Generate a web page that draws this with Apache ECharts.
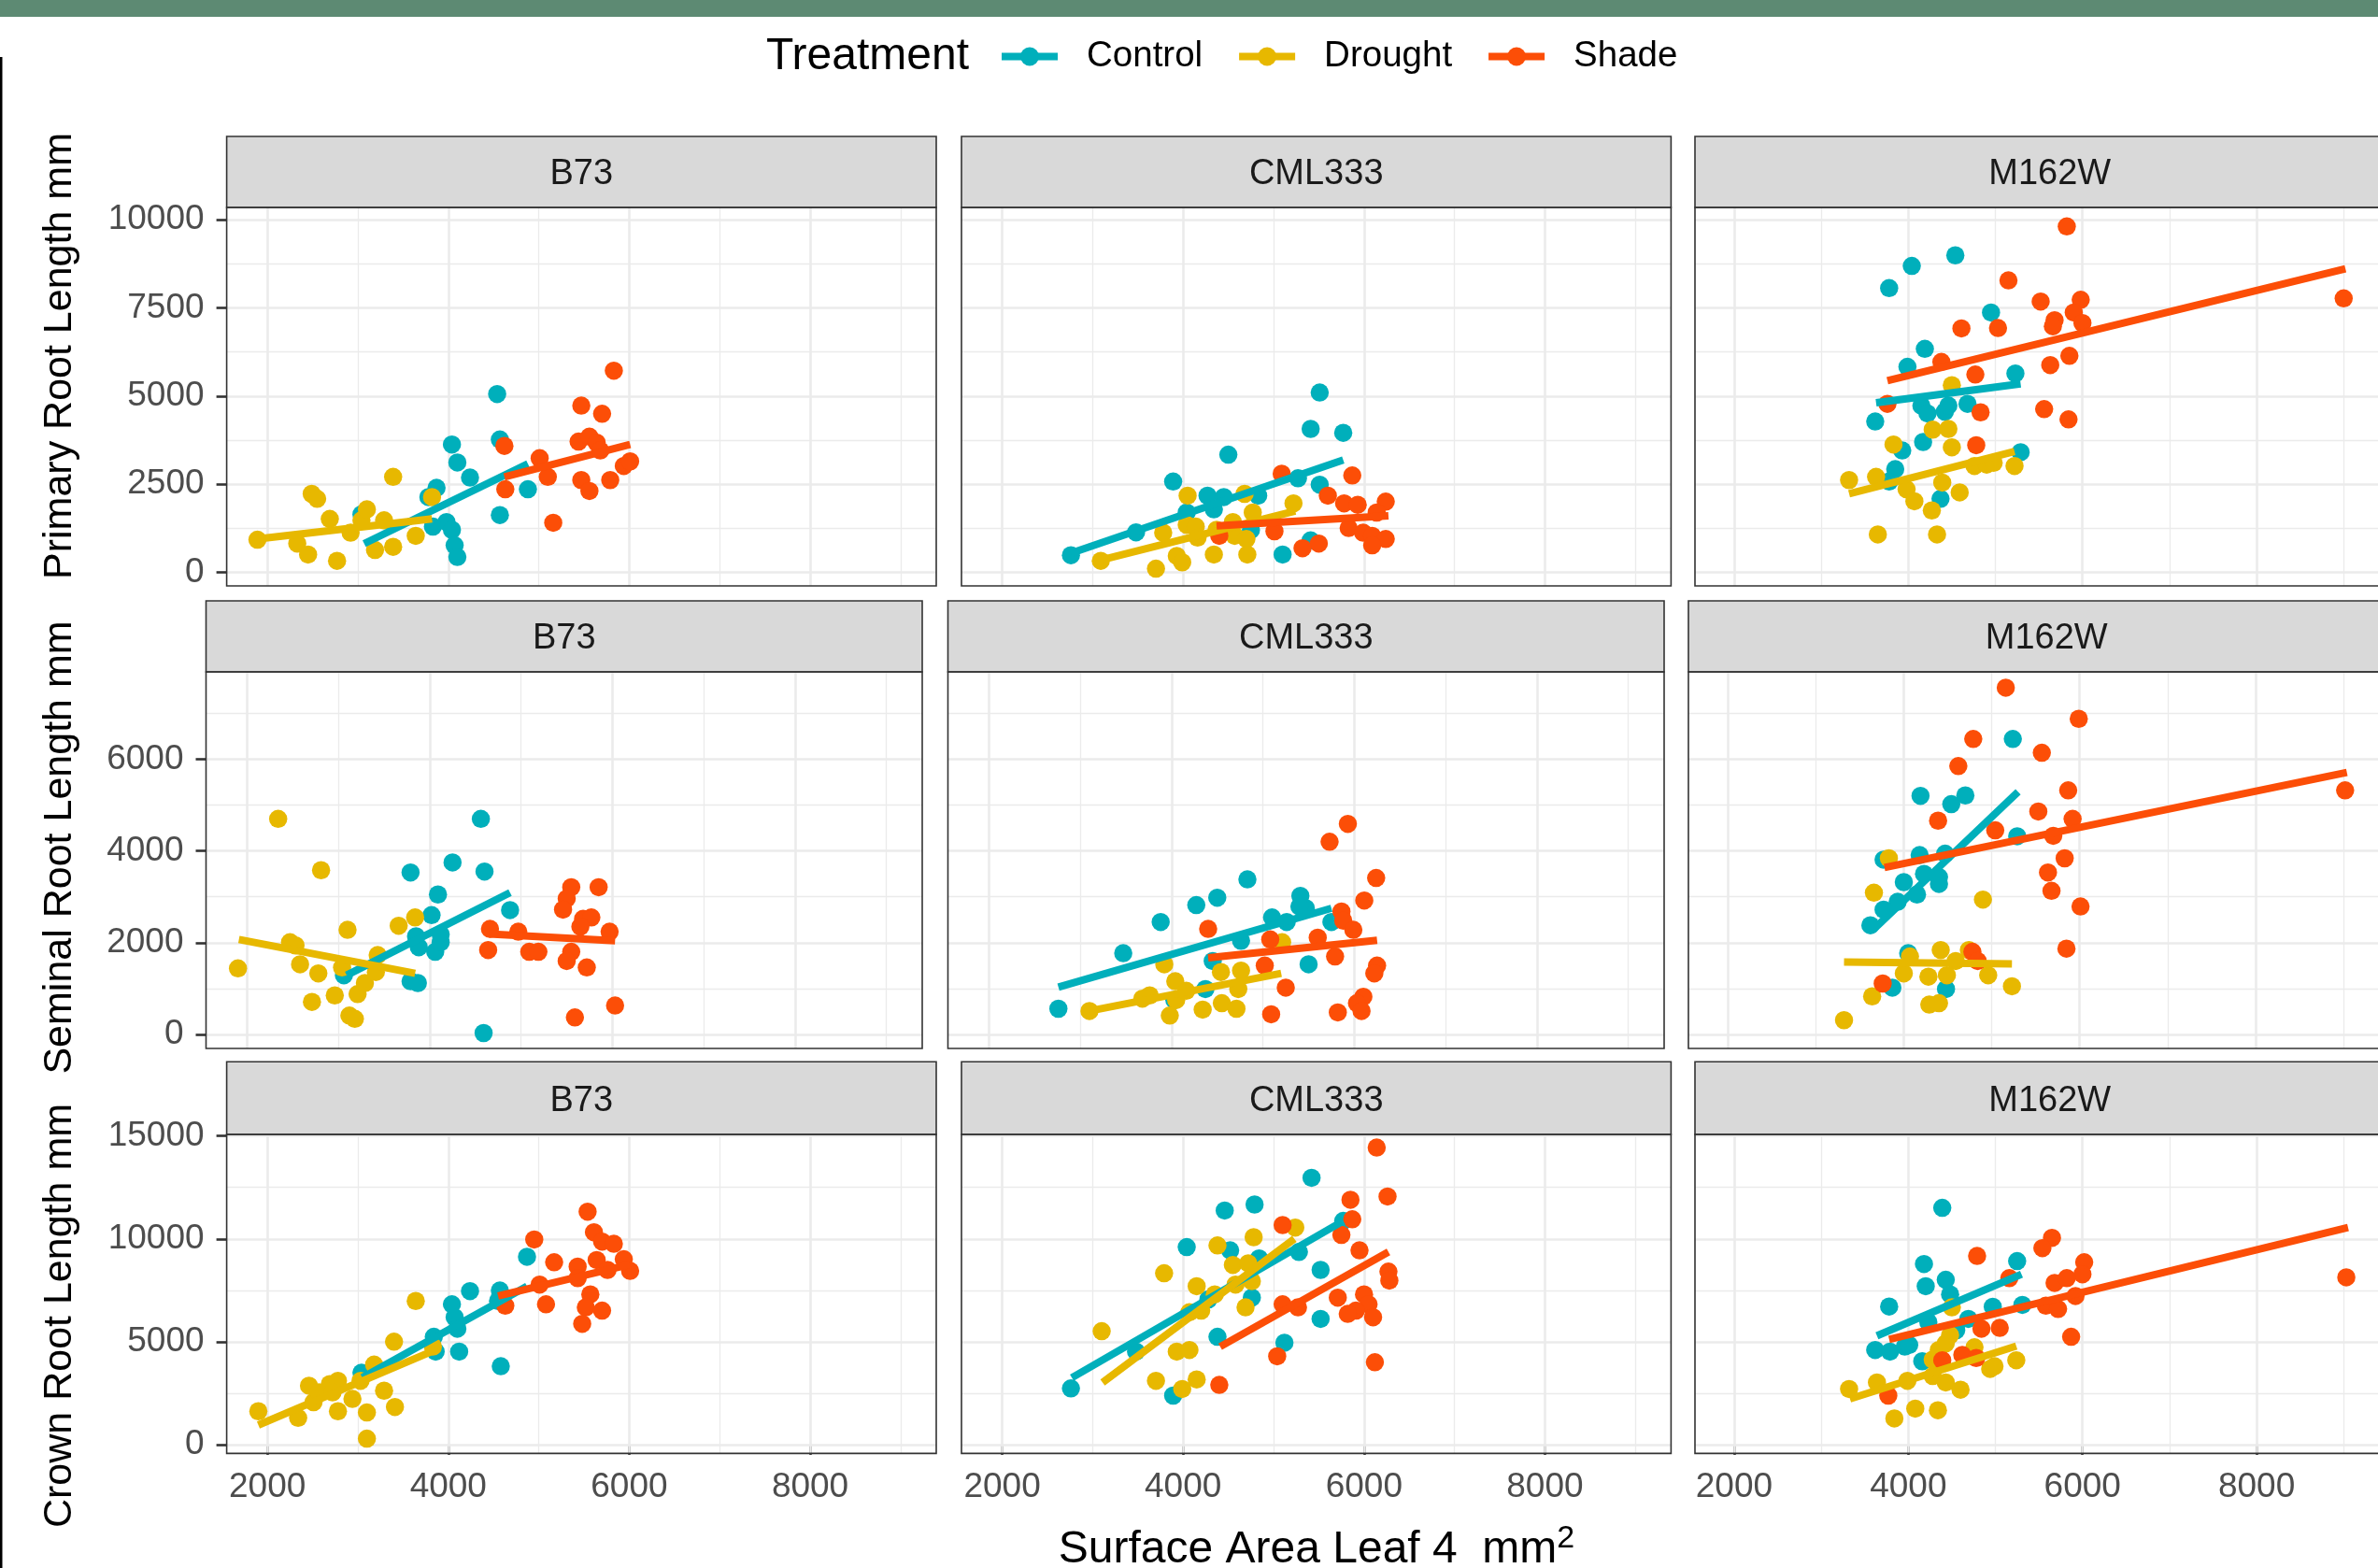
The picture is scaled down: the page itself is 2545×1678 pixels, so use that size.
<!DOCTYPE html>
<html>
<head>
<meta charset="utf-8">
<script src="https://cdn.jsdelivr.net/npm/echarts@6/dist/echarts.min.js"></script>
<style>
html,body{margin:0;padding:0;background:#ffffff;}
#chart{width:2545px;height:1678px;}
</style>
</head>
<body>
<div id="chart"></div>
<script>
// ---------- categories / labels ----------
const genotypes = ['B73', 'CML333', 'M162W'];
const treatments = ['Control', 'Drought', 'Shade'];
const traitTitles = ['Primary Root Length mm', 'Seminal Root Length mm', 'Crown Root Length mm'];
const legendTitle = 'Treatment';
const xTitle = 'Surface Area Leaf 4  mm';

// ---------- axis breaks ----------
const xTicks = [2000, 4000, 6000, 8000];
const xMinor = [3000, 5000, 7000, 9000];
const primaryTicks = [0, 2500, 5000, 7500, 10000];
const primaryMinor = [1250, 3750, 6250, 8750];
const seminalTicks = [0, 2000, 4000, 6000];
const seminalMinor = [1000, 3000, 5000, 7000];
const crownTicks = [0, 5000, 10000, 15000];
const crownMinor = [2500, 7500, 12500];
const xRange = [1550, 9394];
const primaryRange = [-379, 10347];
const seminalRange = [-306, 7904];
const crownRange = [-431, 15077];

// ---------- Primary root length ----------
const primaryB73Control = [[4540,5060],[4570,3770],[4040,3630],[4100,3120],[4240,2690],[3870,2400],[3780,2140],[3980,1430],[4040,1210],[3830,1300],[4070,770],[4100,440],[4570,1630],[4880,2360],[3040,1650]];
const primaryB73Drought = [[1890,930],[2330,820],[2450,510],[2490,2230],[2550,2090],[2690,1520],[2770,330],[2920,1130],[3040,1480],[3100,1790],[3190,640],[3290,1480],[3390,2710],[3390,730],[3640,1040],[3820,2140]];
const primaryB73Shade = [[5830,5720],[5470,4730],[5700,4500],[4620,3590],[5440,3710],[5560,3850],[5640,3680],[5680,3460],[5010,3240],[5100,2710],[4630,2360],[5470,2620],[5560,2310],[5790,2620],[5940,3020],[6010,3150],[5160,1410]];
const primaryB73ControlFit = [[3070,820],[4880,3080]];
const primaryB73DroughtFit = [[1890,950],[3820,1520]];
const primaryB73ShadeFit = [[4620,2710],[6010,3630]];

const primaryCML333Control = [[5510,5100],[5410,4070],[5770,3960],[4500,3340],[3890,2580],[4270,2180],[4450,2140],[4830,2180],[5270,2670],[5510,2490],[4340,1790],[4040,1700],[3480,1140],[2760,490],[4750,1210],[5100,510],[5410,910]];
const primaryCML333Drought = [[4050,2180],[4680,2230],[5220,1960],[4770,1700],[3780,1130],[4040,1350],[4140,1300],[4160,990],[4370,1210],[4550,1430],[4570,1040],[4700,950],[4340,510],[4710,510],[3930,470],[3990,290],[3700,110],[3090,330]];
const primaryCML333Shade = [[5090,2800],[5870,2750],[5600,2180],[5780,1960],[5930,1920],[6240,2010],[6140,1700],[5830,1260],[5990,1130],[6090,1040],[6240,950],[5010,1170],[4400,1040],[5500,820],[5320,690],[6090,770]];
const primaryCML333ControlFit = [[2760,550],[5770,3190]];
const primaryCML333DroughtFit = [[3090,350],[5240,1740]];
const primaryCML333ShadeFit = [[4370,1320],[6270,1610]];

const primaryM162WControl = [[4540,8990],[4040,8690],[3780,8060],[4950,7370],[4190,6340],[3990,5830],[5230,5640],[4150,4730],[4220,4510],[4420,4560],[4460,4730],[4680,4780],[3620,4280],[4170,3700],[3930,3460],[5290,3410],[3850,2930],[3780,2580],[4370,2090]];
const primaryM162WDrought = [[4500,5310],[4280,4050],[4460,4070],[3830,3630],[4500,3550],[4760,3020],[4900,3060],[4980,3110],[5220,3020],[3320,2620],[3630,2710],[3980,2360],[4070,2020],[4390,2550],[4590,2270],[4270,1760],[3650,1080],[4330,1080]];
const primaryM162WShade = [[5820,9810],[5150,8280],[5520,7680],[5980,7730],[5900,7370],[6000,7070],[5680,7150],[5660,6980],[4610,6920],[5030,6930],[4380,5970],[4770,5610],[5850,6140],[5630,5880],[3760,4780],[4830,4540],[5560,4630],[5840,4340],[4780,3610],[9000,7770]];
const primaryM162WControlFit = [[3630,4810],[5290,5350]];
const primaryM162WDroughtFit = [[3320,2230],[5220,3430]];
const primaryM162WShadeFit = [[3760,5440],[9020,8610]];

// ---------- Seminal root length ----------
const seminalB73Control = [[4560,4700],[4250,3750],[3790,3530],[4600,3550],[4090,3050],[4020,2600],[4880,2710],[3850,2140],[3880,1900],[4060,1800],[4120,2010],[4120,2180],[3790,1160],[3870,1120],[3060,1290],[4590,30]];
const seminalB73Drought = [[2340,4700],[2810,3580],[1900,1440],[2470,2010],[2530,1940],[2580,1530],[2780,1330],[3100,2280],[2710,710],[2960,850],[3120,410],[3180,340],[3040,1460],[3210,880],[3290,1120],[3410,1360],[3430,1730],[3660,2370],[3840,2550]];
const seminalB73Shade = [[5550,3210],[5850,3210],[5500,2960],[5460,2720],[5680,2520],[5770,2550],[4660,2300],[4970,2240],[5970,2240],[5650,2350],[4640,1840],[5090,1800],[5190,1800],[5550,1800],[5500,1600],[5720,1460],[5590,370],[6030,630]];
const seminalB73ControlFit = [[3090,1290],[4880,3090]];
const seminalB73DroughtFit = [[1910,2070],[3840,1330]];
const seminalB73ShadeFit = [[4650,2190],[6030,2040]];

const seminalCML333Control = [[4830,3380],[4270,2820],[4500,2980],[3880,2450],[5410,3020],[5470,2750],[5400,2790],[5100,2550],[5260,2450],[5750,2450],[4760,2040],[3470,1770],[4450,1600],[5500,1530],[4370,990],[4030,750],[2760,560]];
const seminalCML333Drought = [[5210,2010],[3920,1530],[4540,1360],[4760,1390],[4730,990],[4040,1160],[4160,950],[4050,750],[3760,850],[3680,780],[4340,540],[4550,680],[4710,560],[3980,410],[3100,510]];
const seminalCML333Shade = [[5930,4590],[5730,4200],[6240,3410],[6110,2920],[5860,2680],[5880,2480],[5990,2280],[4400,2300],[5080,2070],[5600,2110],[5790,1700],[5020,1500],[6250,1500],[6220,1330],[5250,1020],[6100,820],[6030,680],[6080,510],[5090,440],[5820,480]];
const seminalCML333ControlFit = [[2760,1030],[5750,2750]];
const seminalCML333DroughtFit = [[3100,510],[5200,1330]];
const seminalCML333ShadeFit = [[4400,1670],[6250,2050]];

const seminalM162WControl = [[5240,6440],[4190,5200],[4540,5020],[4700,5210],[5290,4320],[4180,3910],[4470,3940],[3770,3810],[4230,3500],[4400,3430],[4400,3280],[4000,3320],[4150,3050],[3930,2890],[3770,2720],[3620,2380],[4050,1770],[3870,1020],[4480,990]];
const seminalM162WDrought = [[3830,3840],[3660,3090],[4900,2940],[4070,1700],[4420,1840],[4590,1600],[4740,1840],[4000,1330],[4280,1260],[4490,1290],[4960,1290],[5230,1050],[3640,830],[4290,650],[4400,680],[3320,310]];
const seminalM162WShade = [[5160,7560],[5990,6880],[4790,6440],[5570,6140],[4620,5850],[5870,5320],[5530,4860],[5920,4700],[4390,4660],[5040,4450],[5700,4330],[5830,3840],[5640,3530],[5680,3130],[6010,2790],[5850,1870],[4780,1800],[4840,1600],[3760,1110],[9020,5320]];
const seminalM162WControlFit = [[3650,2280],[5300,5290]];
const seminalM162WDroughtFit = [[3320,1580],[5230,1540]];
const seminalM162WShadeFit = [[3780,3640],[9040,5710]];

// ---------- Crown root length ----------
const crownB73Control = [[3040,3490],[3840,5240],[3860,4520],[4040,6820],[4070,6190],[4100,5630],[4120,4520],[4240,7460],[4570,7490],[4550,6980],[4580,3810],[4870,9130]];
const crownB73Drought = [[1900,1620],[2340,1300],[2460,2860],[2510,2060],[2570,2540],[2690,2940],[2780,3100],[2720,2540],[2780,1620],[2940,2220],[3030,3100],[3100,1560],[3100,290],[3180,3890],[3290,2620],[3400,5000],[3410,1830],[3640,6980],[3830,4760]];
const crownB73Shade = [[5540,11320],[5610,10320],[5700,9870],[5830,9760],[4950,9970],[5170,8860],[5430,8650],[5430,8090],[5640,8970],[5760,8490],[5940,9010],[6010,8440],[5010,7780],[4630,6750],[5080,6820],[5570,7300],[5520,6670],[5700,6510],[5480,5870]];
const crownB73ControlFit = [[3050,3250],[4870,7700]];
const crownB73DroughtFit = [[1900,950],[3900,4680]];
const crownB73ShadeFit = [[4550,7220],[6010,8760]];

const crownCML333Control = [[5420,12970],[4460,11380],[4790,11670],[4040,9600],[4520,9440],[4840,9050],[5280,9360],[5770,10870],[5520,8490],[4760,7140],[4280,7060],[5520,6110],[4380,5240],[5120,4950],[3480,4520],[2760,2730],[3890,2380]];
const crownCML333Drought = [[5240,10550],[4780,10080],[4380,9680],[4550,8730],[4720,8810],[4760,7940],[3790,8330],[4150,7700],[4350,7300],[4580,7780],[4690,6670],[4070,6430],[4200,6510],[3100,5510],[3930,4520],[4070,4600],[3700,3100],[4150,3170],[3990,2700]];
const crownCML333Shade = [[6140,14440],[6260,12060],[5850,11900],[5870,10950],[5100,10670],[5750,10190],[5950,9440],[6270,8410],[6280,7970],[6000,7300],[6050,6820],[5910,6510],[5820,6350],[6100,6190],[5710,7140],[5100,6820],[5270,6670],[5040,4290],[6120,4000],[4400,2900]];
const crownCML333ControlFit = [[2770,3250],[5770,10870]];
const crownCML333DroughtFit = [[3110,3020],[5230,10000]];
const crownCML333ShadeFit = [[4410,4760],[6270,9360]];

const crownM162WControl = [[4390,11510],[4180,8780],[5250,8920],[4430,8010],[4200,7700],[4480,7300],[3780,6710],[4970,6700],[5310,6790],[4690,6110],[4230,5950],[4550,5560],[3620,4600],[3790,4520],[3960,4760],[4010,4840],[4160,4050]];
const crownM162WDrought = [[4500,6670],[4480,5320],[4430,4920],[4350,4600],[4760,4730],[4280,4130],[4380,3970],[4940,3680],[4990,3810],[5240,4100],[3320,2700],[3640,3020],[3990,3100],[4280,3330],[4430,3020],[4600,2670],[4080,1750],[4340,1670],[3840,1270]];
const crownM162WShade = [[5650,10050],[5540,9550],[4790,9170],[5160,8090],[6020,8860],[6000,8280],[5680,7860],[5820,8090],[5920,7220],[5580,6750],[5720,6590],[4840,5630],[5050,5670],[5870,5240],[4620,4360],[4780,4210],[4390,4100],[3770,2380],[9030,8130]];
const crownM162WControlFit = [[3640,5290],[5300,8280]];
const crownM162WDroughtFit = [[3330,2220],[5240,4790]];
const crownM162WShadeFit = [[3780,5110],[9050,10550]];

// ---------- tables built from the arrays ----------
const points = [
  [[primaryB73Control, primaryB73Drought, primaryB73Shade],
   [primaryCML333Control, primaryCML333Drought, primaryCML333Shade],
   [primaryM162WControl, primaryM162WDrought, primaryM162WShade]],
  [[seminalB73Control, seminalB73Drought, seminalB73Shade],
   [seminalCML333Control, seminalCML333Drought, seminalCML333Shade],
   [seminalM162WControl, seminalM162WDrought, seminalM162WShade]],
  [[crownB73Control, crownB73Drought, crownB73Shade],
   [crownCML333Control, crownCML333Drought, crownCML333Shade],
   [crownM162WControl, crownM162WDrought, crownM162WShade]]
];
const fits = [
  [[primaryB73ControlFit, primaryB73DroughtFit, primaryB73ShadeFit],
   [primaryCML333ControlFit, primaryCML333DroughtFit, primaryCML333ShadeFit],
   [primaryM162WControlFit, primaryM162WDroughtFit, primaryM162WShadeFit]],
  [[seminalB73ControlFit, seminalB73DroughtFit, seminalB73ShadeFit],
   [seminalCML333ControlFit, seminalCML333DroughtFit, seminalCML333ShadeFit],
   [seminalM162WControlFit, seminalM162WDroughtFit, seminalM162WShadeFit]],
  [[crownB73ControlFit, crownB73DroughtFit, crownB73ShadeFit],
   [crownCML333ControlFit, crownCML333DroughtFit, crownCML333ShadeFit],
   [crownM162WControlFit, crownM162WDroughtFit, crownM162WShadeFit]]
];
const yTicksByRow = [primaryTicks, seminalTicks, crownTicks];
const yMinorByRow = [primaryMinor, seminalMinor, crownMinor];
const yRangeByRow = [primaryRange, seminalRange, crownRange];

// ---------- styles & layout ----------
const FONT = '"Liberation Sans", Arial, Helvetica, sans-serif';
const palette = ['#00AFBB', '#E7B800', '#FC4E07'];
const rowLayout = [
  { stripTop: 146, top: 222, height: 405, lefts: [242.6, 1029, 1814], width: 759.4 },
  { stripTop: 643, top: 719, height: 403, lefts: [220.5, 1014.5, 1807], width: 766.5 },
  { stripTop: 1136.3, top: 1214, height: 341.4, lefts: [242.6, 1029, 1814], width: 759.4 }
];
const yTitleCenters = [381, 907, 1408];
const plain = v => String(v);

const grids = [], xAxes = [], yAxes = [], gridSeries = [], lineSeries = [], scatterSeries = [], graphics = [];

graphics.push({ type: 'rect', shape: { x: 0, y: 0, width: 2545, height: 18 }, style: { fill: '#5d8a73' }, z: 20 });
graphics.push({ type: 'rect', shape: { x: 0, y: 61, width: 2.5, height: 1617 }, style: { fill: '#000' }, z: 20 });

for (let r = 0; r < 3; r++) {
  const L = rowLayout[r];
  for (let c = 0; c < 3; c++) {
    const i = r * 3 + c;
    grids.push({ left: L.lefts[c], top: L.top, width: L.width, height: L.height, containLabel: false, show: false });
    const showX = r === 2, showY = c === 0;
    xAxes.push({
      gridIndex: i, type: 'value', min: xRange[0], max: xRange[1],
      axisLine: { show: false }, splitLine: { show: false },
      axisTick: { show: showX, length: 11, customValues: xTicks, lineStyle: { color: '#333', width: 2.6 } },
      axisLabel: { show: showX, customValues: xTicks, formatter: plain, fontSize: 37, color: '#4d4d4d', fontFamily: FONT, margin: 18 }
    });
    yAxes.push({
      gridIndex: i, type: 'value', min: yRangeByRow[r][0], max: yRangeByRow[r][1],
      axisLine: { show: false }, splitLine: { show: false },
      axisTick: { show: showY, length: 11, customValues: yTicksByRow[r], lineStyle: { color: '#333', width: 2.6 } },
      axisLabel: { show: showY, customValues: yTicksByRow[r], formatter: plain, fontSize: 37, color: '#4d4d4d', fontFamily: FONT, margin: 24 }
    });
    const major = { color: '#ebebeb', width: 2.6, type: 'solid' };
    const minor = { color: '#ebebeb', width: 1.3, type: 'solid' };
    const ml = [];
    xMinor.forEach(v => ml.push({ xAxis: v, lineStyle: minor }));
    yMinorByRow[r].forEach(v => ml.push({ yAxis: v, lineStyle: minor }));
    xTicks.forEach(v => ml.push({ xAxis: v, lineStyle: major }));
    yTicksByRow[r].forEach(v => ml.push({ yAxis: v, lineStyle: major }));
    gridSeries.push({
      type: 'scatter', name: 'grid' + i, xAxisIndex: i, yAxisIndex: i, data: [], silent: true,
      markLine: { silent: true, z: 1, symbol: ['none', 'none'], label: { show: false }, animation: false, data: ml }
    });
    for (let t = 0; t < 3; t++) {
      lineSeries.push({
        type: 'line', name: treatments[t], xAxisIndex: i, yAxisIndex: i, data: fits[r][c][t],
        symbol: 'circle', symbolSize: 19, showSymbol: false, z: 3, silent: true,
        lineStyle: { color: palette[t], width: 8 }, itemStyle: { color: palette[t] }
      });
      scatterSeries.push({
        type: 'scatter', name: treatments[t], xAxisIndex: i, yAxisIndex: i, data: points[r][c][t],
        symbol: 'circle', symbolSize: 19.5, z: 2, silent: true,
        itemStyle: { color: palette[t], opacity: 1 }
      });
    }
    // strip header
    graphics.push({ type: 'rect', shape: { x: L.lefts[c], y: L.stripTop, width: L.width, height: L.top - L.stripTop },
      style: { fill: '#d9d9d9', stroke: '#333', lineWidth: 1.6 }, z: 5 });
    graphics.push({ type: 'text', x: L.lefts[c] + L.width / 2, y: (L.stripTop + L.top) / 2 + 3,
      style: { text: genotypes[c], fontSize: 38, fontFamily: FONT, fill: '#1a1a1a', align: 'center', verticalAlign: 'middle' }, z: 6 });
    // panel border
    graphics.push({ type: 'rect', shape: { x: L.lefts[c], y: L.top, width: L.width, height: L.height },
      style: { fill: 'none', stroke: '#333', lineWidth: 1.6 }, z: 10 });
  }
  graphics.push({ type: 'text', x: 64, y: yTitleCenters[r], rotation: Math.PI / 2,
    style: { text: traitTitles[r], fontSize: 43, fontFamily: FONT, fill: '#000', align: 'center', verticalAlign: 'middle' }, z: 6 });
}

graphics.push({ type: 'text', x: 1409, y: 1659,
  style: { text: xTitle + '{sup|2}', fontSize: 48, lineHeight: 58, fontFamily: FONT, fill: '#000', align: 'center', verticalAlign: 'middle',
    rich: { sup: { fontSize: 34, lineHeight: 20, verticalAlign: 'top', fontFamily: FONT, fill: '#000' } } }, z: 6 });
graphics.push({ type: 'text', x: 820, y: 61,
  style: { text: legendTitle, fontSize: 48, fontFamily: FONT, fill: '#000', align: 'left', verticalAlign: 'middle' }, z: 6 });

const option = {
  animation: false,
  backgroundColor: '#ffffff',
  grid: grids,
  xAxis: xAxes,
  yAxis: yAxes,
  legend: {
    data: treatments, left: 1068, top: 41, itemWidth: 60, itemHeight: 25, itemGap: 35, padding: 0,
    selectedMode: false,
    lineStyle: { width: 8 },
    textStyle: { fontSize: 38.5, color: '#000', fontFamily: FONT, padding: [0, 0, 0, 26] }
  },
  graphic: { elements: graphics },
  series: gridSeries.concat(lineSeries, scatterSeries)
};

const chart = echarts.init(document.getElementById('chart'), null, { renderer: 'canvas' });
chart.setOption(option);
</script>
</body>
</html>
